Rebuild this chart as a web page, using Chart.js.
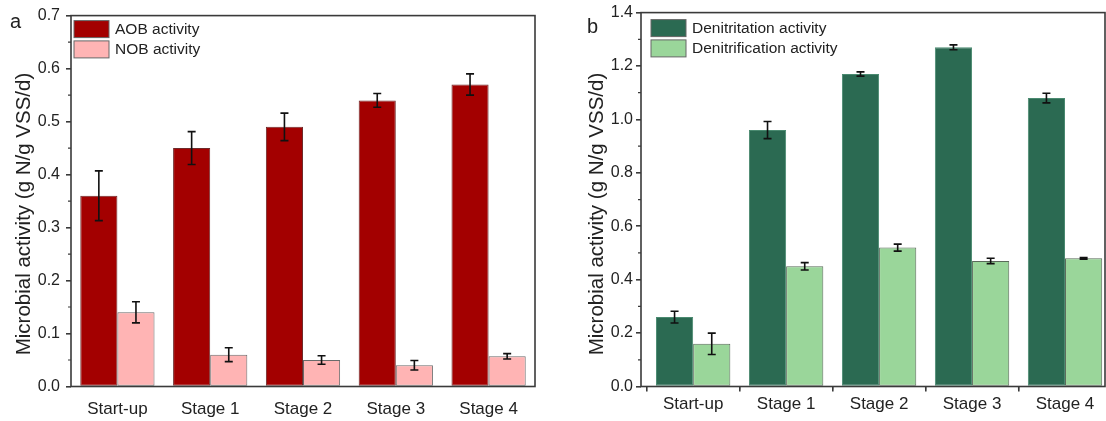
<!DOCTYPE html>
<html>
<head>
<meta charset="utf-8">
<script src="https://cdn.jsdelivr.net/npm/chart.js@4.4.1/dist/chart.umd.min.js"></script>
<style>
  html, body { margin: 0; padding: 0; background: #fff; width: 1106px; height: 421px; overflow: hidden; position: relative; }
  canvas { position: absolute; top: 0; }
  #chartA { left: 0; }
  #chartB { left: 553px; }
</style>
</head>
<body>
<canvas id="chartA" width="553" height="421"></canvas>
<canvas id="chartB" width="560" height="421"></canvas>
<script>
const categories = ['Start-up', 'Stage 1', 'Stage 2', 'Stage 3', 'Stage 4'];

// panel a
const aobActivity = [0.36, 0.45, 0.49, 0.54, 0.57];
const aobError = [0.047, 0.031, 0.026, 0.013, 0.02];
const nobActivity = [0.14, 0.06, 0.05, 0.04, 0.057];
const nobError = [0.02, 0.013, 0.008, 0.009, 0.005];
const yTicksA = [0, 0.1, 0.2, 0.3, 0.4, 0.5, 0.6, 0.7];

// panel b
const denitritation = [0.26, 0.96, 1.17, 1.27, 1.08];
const denitritationError = [0.022, 0.032, 0.008, 0.009, 0.018];
const denitrification = [0.16, 0.45, 0.52, 0.47, 0.48];
const denitrificationError = [0.04, 0.014, 0.013, 0.01, 0.003];
const yTicksB = [0, 0.2, 0.4, 0.6, 0.8, 1.0, 1.2, 1.4];

const FONT = "'Liberation Sans', Arial, sans-serif";
const INK = '#222';
const AXIS = '#3a3a3a';
const yTitle = 'Microbial activity (g N/g VSS/d)';

Chart.defaults.font.family = FONT;
Chart.defaults.color = INK;

const toPoints = vals => vals.map((v, i) => ({ x: i, y: v }));

// error bars, frame, minor ticks, legend, letter, y title
const decorPlugin = {
    id: 'decor',
    afterDatasetsDraw(chart) {
        const ctx = chart.ctx;
        const y = chart.scales.y;
        ctx.save();
        ctx.strokeStyle = '#111';
        ctx.lineWidth = 1.6;
        chart.data.datasets.forEach((ds, di) => {
            const meta = chart.getDatasetMeta(di);
            meta.data.forEach((bar, i) => {
                const v = ds.data[i].y, e = ds.errors[i];
                const yt = y.getPixelForValue(v + e), yb = y.getPixelForValue(v - e);
                ctx.beginPath();
                ctx.moveTo(bar.x, yt); ctx.lineTo(bar.x, yb);
                ctx.moveTo(bar.x - 4, yt); ctx.lineTo(bar.x + 4, yt);
                ctx.moveTo(bar.x - 4, yb); ctx.lineTo(bar.x + 4, yb);
                ctx.stroke();
            });
        });
        ctx.restore();
    },
    afterDraw(chart, args, opts) {
        const ctx = chart.ctx;
        const a = chart.chartArea;
        const y = chart.scales.y, x = chart.scales.x;
        ctx.save();
        // frame
        ctx.strokeStyle = AXIS;
        ctx.lineWidth = 1.6;
        ctx.strokeRect(a.left, a.top, a.right - a.left, a.bottom - a.top);
        // minor ticks
        ctx.lineWidth = 1.2;
        ctx.beginPath();
        for (let i = 0; i < opts.yTicks.length - 1; i++) {
            const py = y.getPixelForValue((opts.yTicks[i] + opts.yTicks[i + 1]) / 2);
            ctx.moveTo(a.left - 3, py); ctx.lineTo(a.left, py);
        }
        if (opts.xMinor) {
            for (let i = 0; i < categories.length - 1; i++) {
                const px = x.getPixelForValue(i + 0.5);
                ctx.moveTo(px, a.bottom); ctx.lineTo(px, a.bottom + 3);
            }
        }
        ctx.stroke();
        // legend
        ctx.font = '15.5px ' + FONT;
        ctx.textBaseline = 'middle';
        ctx.textAlign = 'left';
        chart.data.datasets.forEach((ds, di) => {
            const bx = a.left + opts.legendX, by = a.top + opts.legendY + di * 20.3;
            ctx.fillStyle = ds.backgroundColor;
            ctx.fillRect(bx, by, 35, 17);
            ctx.strokeStyle = '#666';
            ctx.lineWidth = 1;
            ctx.strokeRect(bx, by, 35, 17);
            ctx.fillStyle = INK;
            ctx.fillText(ds.label, bx + 41, by + 9);
        });
        // panel letter
        ctx.font = '20px ' + FONT;
        ctx.textBaseline = 'alphabetic';
        ctx.fillText(opts.letter, opts.letterX, opts.letterY);
        // y title
        ctx.translate(opts.titleX, 214);
        ctx.rotate(-Math.PI / 2);
        ctx.font = '20.5px ' + FONT;
        ctx.textAlign = 'center';
        ctx.textBaseline = 'middle';
        ctx.fillText(yTitle, 0, 0);
        ctx.restore();
    }
};

function makeChart(id, sets, p) {
    return new Chart(document.getElementById(id), {
        type: 'bar',
        data: {
            datasets: sets.map(s => ({
                label: s.label,
                data: toPoints(s.values),
                errors: s.errors,
                backgroundColor: s.color,
                borderColor: s.border,
                borderWidth: 1,
                borderSkipped: false,
                categoryPercentage: 0.8,
                barPercentage: 1.0
            }))
        },
        options: {
            responsive: false,
            animation: false,
            devicePixelRatio: 1,
            layout: { padding: { top: 12, right: p.padRight, left: 0, bottom: 0 } },
            plugins: {
                legend: { display: false },
                tooltip: { enabled: false },
                decor: p
            },
            scales: {
                x: {
                    type: 'linear',
                    min: p.xMin,
                    max: p.xMax,
                    offset: false,
                    afterBuildTicks: s => { s.ticks = categories.map((c, i) => ({ value: i })); },
                    afterFit: s => { s.height = 34.5; },
                    border: { display: false },
                    grid: { display: p.xTicks, drawOnChartArea: false, tickLength: 5, color: AXIS, lineWidth: 1.6 },
                    ticks: {
                        callback: v => categories[v],
                        padding: p.xTicks ? 3 : 8,
                        autoSkip: false,
                        maxRotation: 0,
                        font: { size: 17 },
                        color: INK
                    }
                },
                y: {
                    min: 0,
                    max: p.yTicks[p.yTicks.length - 1],
                    afterBuildTicks: s => { s.ticks = p.yTicks.map(v => ({ value: v })); },
                    afterFit: s => { s.width = p.yWidth; },
                    border: { display: false },
                    grid: { drawOnChartArea: false, tickLength: 5, color: AXIS, lineWidth: 1.6 },
                    ticks: {
                        callback: v => v.toFixed(1),
                        padding: p.yPad,
                        font: { size: 16 },
                        color: INK
                    }
                }
            }
        },
        plugins: [decorPlugin]
    });
}

makeChart('chartA', [
    { label: 'AOB activity', values: aobActivity, errors: aobError, color: '#a30000', border: '#6e2a2a' },
    { label: 'NOB activity', values: nobActivity, errors: nobError, color: '#ffb4b4', border: '#6a6a6a' }
], {
    yTicks: yTicksA, yWidth: 71, yPad: 6, padRight: 18, xMin: -0.5, xMax: 4.5, xTicks: false, xMinor: false,
    legendX: 3, legendY: 5, letter: 'a', letterX: 10, letterY: 28, titleX: 24
});

makeChart('chartB', [
    { label: 'Denitritation activity', values: denitritation, errors: denitritationError, color: '#2b6a52', border: '#4a8a70' },
    { label: 'Denitrification activity', values: denitrification, errors: denitrificationError, color: '#9ad69a', border: '#5a6a5a' }
], {
    yTicks: yTicksB, yWidth: 88, yPad: 3, padRight: 8, xMin: -0.561, xMax: 4.43, xTicks: true, xMinor: true,
    legendX: 10, legendY: 7, letter: 'b', letterX: 34, letterY: 33, titleX: 44
});
</script>
</body>
</html>
